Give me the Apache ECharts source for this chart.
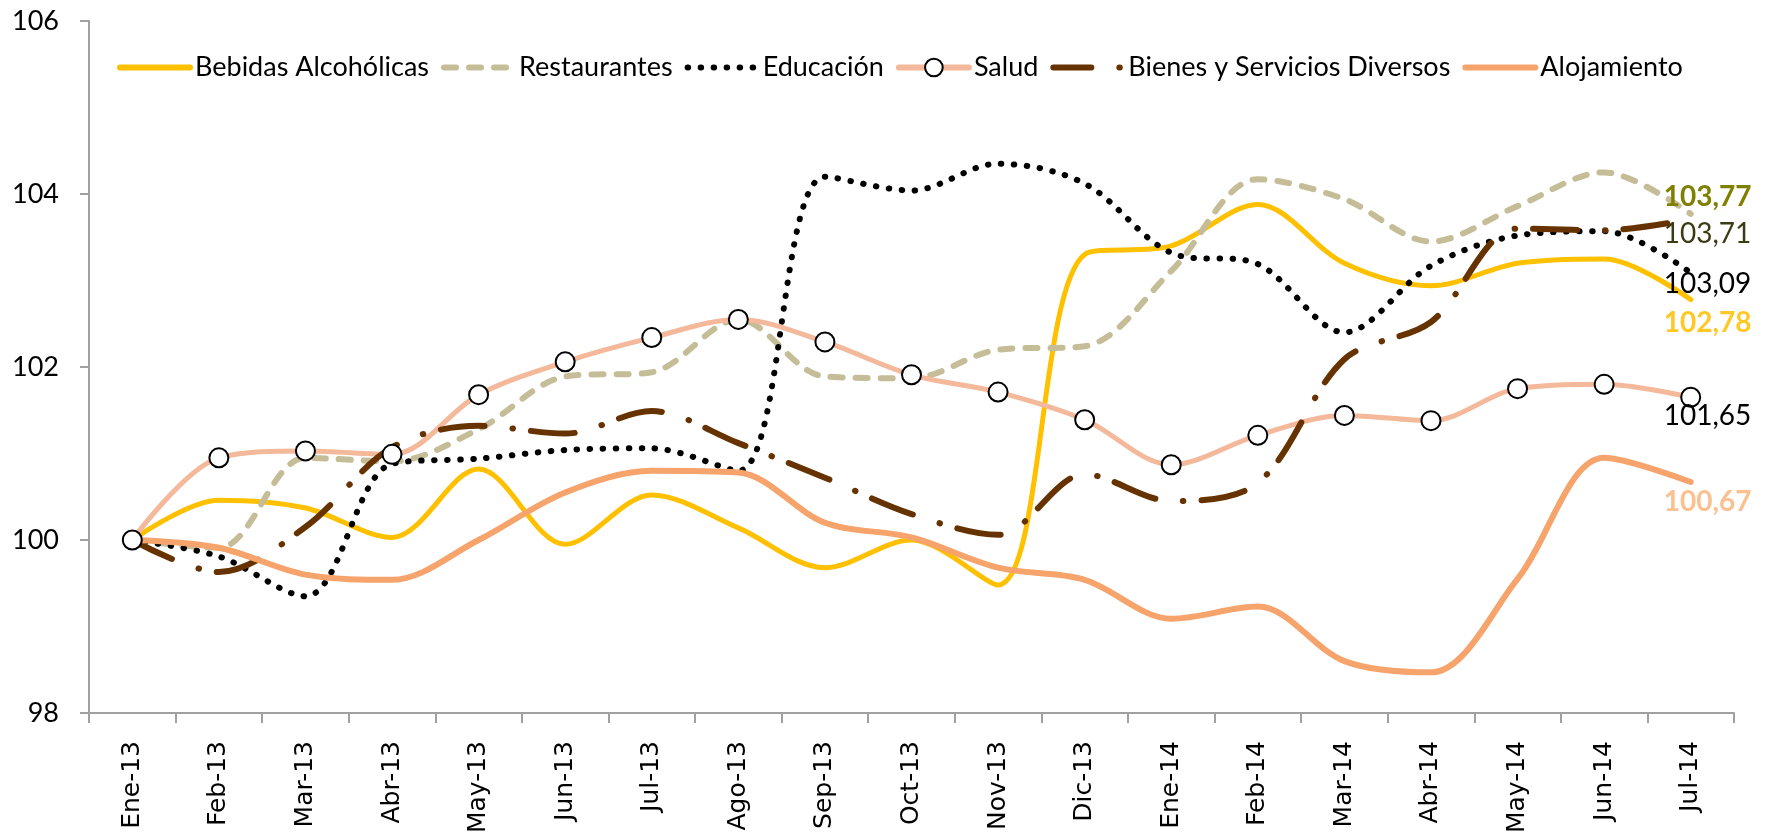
<!DOCTYPE html>
<html>
<head>
<meta charset="utf-8">
<title>Indices</title>
<script src="https://cdn.jsdelivr.net/npm/echarts@6/dist/echarts.min.js"></script>
<style>
	html, body { margin: 0; padding: 0; background: #fff; }
	#chart { width: 1769px; height: 840px; }
</style>
</head>
<body>
<div id="chart"></div>
<script>
var meses = ['Ene-13','Feb-13','Mar-13','Abr-13','May-13','Jun-13','Jul-13','Ago-13','Sep-13','Oct-13',
	'Nov-13','Dic-13','Ene-14','Feb-14','Mar-14','Abr-14','May-14','Jun-14','Jul-14'];

var bebidas      = [100, 100.46, 100.37, 100.03, 100.82, 99.95, 100.52, 100.14, 99.68, 100.00, 99.48, 103.30, 103.40, 103.88, 103.20, 102.94, 103.20, 103.25, 102.78];
var restaurantes = [100, 99.91, 100.95, 100.91, 101.28, 101.89, 101.94, 102.55, 101.89, 101.87, 102.20, 102.24, 103.11, 104.17, 103.94, 103.45, 103.86, 104.25, 103.77];
var educacion    = [100, 99.81, 99.35, 100.88, 100.94, 101.04, 101.06, 100.80, 104.20, 104.04, 104.35, 104.12, 103.32, 103.19, 102.40, 103.17, 103.52, 103.57, 103.09];
var salud        = [100, 100.95, 101.03, 100.99, 101.68, 102.06, 102.34, 102.55, 102.29, 101.91, 101.71, 101.39, 100.87, 101.21, 101.44, 101.38, 101.75, 101.80, 101.65];
var bienes       = [100, 99.63, 100.15, 101.07, 101.32, 101.23, 101.49, 101.12, 100.72, 100.30, 100.06, 100.76, 100.45, 100.66, 102.09, 102.52, 103.60, 103.58, 103.71];
var alojamiento  = [100, 99.91, 99.60, 99.54, 100.00, 100.55, 100.80, 100.78, 100.20, 100.03, 99.68, 99.54, 99.09, 99.23, 98.60, 98.47, 99.55, 100.95, 100.67];

var nombres = ['Bebidas Alcohólicas','Restaurantes','Educación','Salud','Bienes y Servicios Diversos','Alojamiento'];

var fuente = 'Lato';
var SMOOTH = 0.33;

function etiquetaFinal(color, bold, dy){
	return {
		show: true,
		distance: 0,
		offset: [-27, dy],
		color: color,
		fontFamily: fuente,
		fontSize: 28,
		fontWeight: bold ? 'bold' : 'normal',
		formatter: function(p){
			return Number(p.value).toFixed(2).replace('.', ',');
		}
	};
}

function serie(nombre, datos, color, ancho, tipo, label){
	return {
		name: nombre,
		type: 'line',
		data: datos,
		smooth: SMOOTH,
		symbol: 'none',
		lineStyle: { color: color, width: ancho, type: tipo, cap: 'round' },
		itemStyle: { color: color },
		endLabel: label
	};
}

var chart = echarts.init(document.getElementById('chart'));

var saludSerie = serie('Salud', salud, '#F4B89A', 5, 'solid', etiquetaFinal('#000', false, 19));
saludSerie.symbol = 'circle';
saludSerie.symbolSize = 19;
saludSerie.showSymbol = true;
saludSerie.itemStyle = { color: '#fff', borderColor: '#000', borderWidth: 2 };

// legend: only Salud keeps its marker, the rest are plain lines
var legendData = nombres.map(function(n){
	if (n == 'Salud')
		return { name: n, lineStyle: { width: 6 } };
	if (n == 'Bienes y Servicios Diversos')
		return { name: n, itemStyle: { opacity: 0 }, lineStyle: { width: 6, type: [38, 28, 0.5, 30] } };
	return { name: n, itemStyle: { opacity: 0 }, lineStyle: { width: 6 } };
});

var option = {
	backgroundColor: '#fff',
	animation: false,
	grid: { left: 89, right: 35, top: 21, bottom: 127 },
	legend: {
		top: 49,
		left: 112,
		itemWidth: 70,
		itemHeight: 22,
		itemGap: 12,
		textStyle: { fontFamily: fuente, fontSize: 27, color: '#000' },
		data: legendData
	},
	xAxis: {
		type: 'category',
		data: meses,
		boundaryGap: true,
		axisLine: { lineStyle: { color: '#A0A0A0', width: 2 } },
		axisTick: { show: true, length: 10, interval: 0, lineStyle: { color: '#A0A0A0', width: 2 } },
		axisLabel: { interval: 0, rotate: 90, margin: 28, fontFamily: 'DejaVu Sans', fontSize: 25, color: '#000' },
		splitLine: { show: false }
	},
	yAxis: {
		type: 'value',
		min: 98,
		max: 106,
		interval: 2,
		axisLine: { show: true, lineStyle: { color: '#A0A0A0', width: 2 } },
		axisTick: { show: true, length: 9, lineStyle: { color: '#A0A0A0', width: 2 } },
		axisLabel: { margin: 30, fontFamily: fuente, fontSize: 27, color: '#000' },
		splitLine: { show: false }
	},
	series: [
		serie(nombres[0], bebidas, '#FFC000', 5, 'solid', etiquetaFinal('#FFC826', true, 23)),
		serie(nombres[1], restaurantes, '#C4BD97', 6, [12, 13], etiquetaFinal('#808000', true, -17)),
		serie(nombres[2], educacion, '#000000', 6, [0.5, 12.5], etiquetaFinal('#000', false, 11)),
		saludSerie,
		serie(nombres[4], bienes, '#663300', 6, [44, 28, 0.5, 18], etiquetaFinal('#3C3C14', false, 15)),
		serie(nombres[5], alojamiento, '#F6A36C', 6, 'solid', etiquetaFinal('#FAC090', true, 20))
	]
};

chart.setOption(option);
</script>
</body>
</html>
